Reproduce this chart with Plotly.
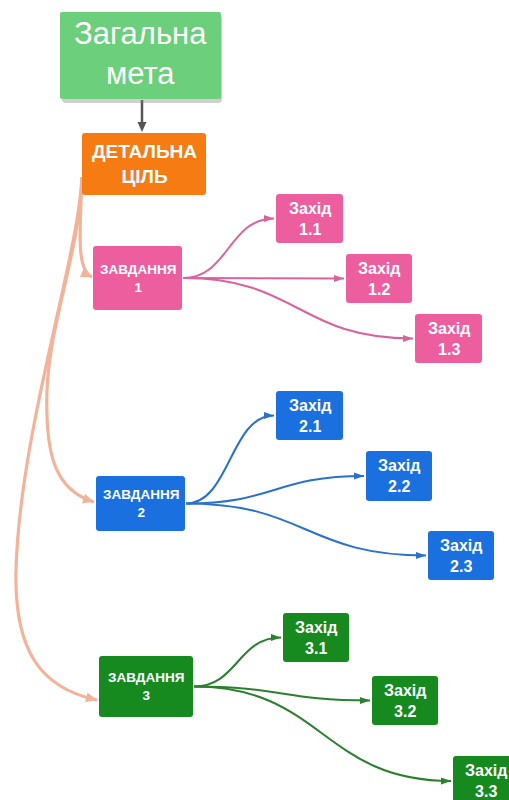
import math
import plotly.graph_objects as go

W, H = 509, 800

# ---- text content ----
goal_label = "Загальна<br>мета"
objective_label = "ДЕТАЛЬНА<br>ЦІЛЬ"
task_labels = ["ЗАВДАННЯ<br>1", "ЗАВДАННЯ<br>2", "ЗАВДАННЯ<br>3"]
measure_labels = [
    ["Захід<br>1.1", "Захід<br>1.2", "Захід<br>1.3"],
    ["Захід<br>2.1", "Захід<br>2.2", "Захід<br>2.3"],
    ["Захід<br>3.1", "Захід<br>3.2", "Захід<br>3.3"],
]

# ---- layout (pixel boxes: x0, y0, x1, y1) ----
goal_box = (60, 12, 221, 99)
objective_box = (82, 133, 206, 195)
task_boxes = [(93, 246, 182, 310), (96, 476, 185, 531), (99, 656, 193, 717)]
measure_boxes = [
    [(276, 194, 343, 243), (346, 254, 412, 303), (415, 314, 482, 363)],
    [(276, 391, 343, 440), (366, 451, 432, 501), (428, 531, 494, 580)],
    [(283, 613, 349, 662), (372, 676, 438, 725), (453, 756, 519, 806)],
]

# ---- styles ----
goal_color = "#6ccf7c"
objective_color = "#f67b12"
task_colors = ["#ec5e9e", "#1b70e0", "#16891f"]
link_colors = ["#d9649c", "#2a71c8", "#2b7f2f"]
spine_color = "#f2b39b"
font_family = "Liberation Sans, Arial, sans-serif"

shapes = []
annotations = []


def rrect(b, r=3):
    x0, y0, x1, y1 = b
    return (f"M{x0+r},{y0} L{x1-r},{y0} Q{x1},{y0} {x1},{y0+r} "
            f"L{x1},{y1-r} Q{x1},{y1} {x1-r},{y1} L{x0+r},{y1} "
            f"Q{x0},{y1} {x0},{y1-r} L{x0},{y0+r} Q{x0},{y0} {x0+r},{y0} Z")


def box(b, color, text, size, bold=True, r=3, dy=0):
    shapes.append(dict(type="path", path=rrect(b, r), xref="x", yref="y",
                       fillcolor=color, line=dict(width=0), layer="above"))
    t = f"<b>{text}</b>" if bold else text
    annotations.append(dict(x=(b[0] + b[2]) / 2, y=(b[1] + b[3]) / 2 + dy, xref="x", yref="y",
                            text=t, showarrow=False, align="center",
                            font=dict(family=font_family, size=size, color="white")))


def arrowhead(tip, frm, color, length=10, width=8):
    dx, dy = tip[0] - frm[0], tip[1] - frm[1]
    n = math.hypot(dx, dy)
    ux, uy = dx / n, dy / n
    px, py = -uy, ux
    bx, by = tip[0] - ux * length, tip[1] - uy * length
    p1 = (bx + px * width / 2, by + py * width / 2)
    p2 = (bx - px * width / 2, by - py * width / 2)
    shapes.append(dict(type="path", xref="x", yref="y",
                       path=f"M{tip[0]},{tip[1]} L{p1[0]:.2f},{p1[1]:.2f} L{p2[0]:.2f},{p2[1]:.2f} Z",
                       fillcolor=color, line=dict(width=0), layer="above"))


def curve(path, color, w):
    shapes.append(dict(type="path", path=path, xref="x", yref="y",
                       line=dict(color=color, width=w), layer="above"))


# ---- spine connectors from objective to tasks ----
ox = objective_box[0]
oy = 177
tips = [(task_boxes[0][0] - 1, 277), (task_boxes[1][0] - 2, 502), (task_boxes[2][0] - 2, 700)]
spine_paths = [
    (f"M{ox},{oy} C{ox-2},230 {ox-6},270 {tips[0][0]},{tips[0][1]}", (ox - 6, 270)),
    (f"M{ox},{oy} C{ox-2},250 50,320 47,390 C45,455 55,490 {tips[1][0]},{tips[1][1]}", (58, 490)),
    (f"M{ox},{oy} C{ox-4},260 20,430 16,570 C14,650 40,688 {tips[2][0]},{tips[2][1]}", (48, 688)),
]
for (p, cp), tip in zip(spine_paths, tips):
    curve(p, spine_color, 3.2)
    arrowhead(tip, cp, spine_color, length=11, width=10)

# ---- task -> measure connectors ----
for ti, tb in enumerate(task_boxes):
    sx, sy = tb[2] + 1, (tb[1] + tb[3]) / 2
    for mb in measure_boxes[ti]:
        ex, ey = mb[0] - 2, (mb[1] + mb[3]) / 2
        k = (ex - sx) * 0.5
        curve(f"M{sx},{sy} C{sx+k},{sy} {ex-k},{ey} {ex},{ey}", link_colors[ti], 2)
        arrowhead((ex, ey), (ex - 10, ey), link_colors[ti], length=10, width=7)

# ---- goal -> objective arrow ----
gx = 142
shapes.append(dict(type="line", xref="x", yref="y", x0=gx, y0=goal_box[3] + 1, x1=gx,
                   y1=objective_box[1] - 9, line=dict(color="#555555", width=2.5)))
arrowhead((gx, objective_box[1] - 1), (gx, objective_box[1] - 20), "#555555", length=10, width=9)

# ---- boxes ----
# soft shadow under the goal box
shapes.append(dict(type="path", path=rrect((goal_box[0] + 2, goal_box[1] + 3, goal_box[2] + 1, goal_box[3] + 4), 4),
                   xref="x", yref="y", fillcolor="rgba(120,120,120,0.35)", line=dict(width=0), layer="above"))
box(goal_box, goal_color, goal_label, 31, bold=False, r=2, dy=-2)
box(objective_box, objective_color, objective_label, 19)
for tb, lab, c in zip(task_boxes, task_labels, task_colors):
    box(tb, c, lab, 13.5)
for ti in range(3):
    for mb, lab in zip(measure_boxes[ti], measure_labels[ti]):
        box(mb, task_colors[ti], lab, 16)

fig = go.Figure()
fig.update_layout(
    width=W, height=H,
    margin=dict(l=0, r=0, t=0, b=0),
    paper_bgcolor="white", plot_bgcolor="white",
    xaxis=dict(range=[0, W], visible=False, fixedrange=True),
    yaxis=dict(range=[H, 0], visible=False, fixedrange=True),
    shapes=shapes, annotations=annotations, showlegend=False,
)
fig.write_html("out.html", config={"displayModeBar": False},
               post_script="document.body.style.margin='0';")
